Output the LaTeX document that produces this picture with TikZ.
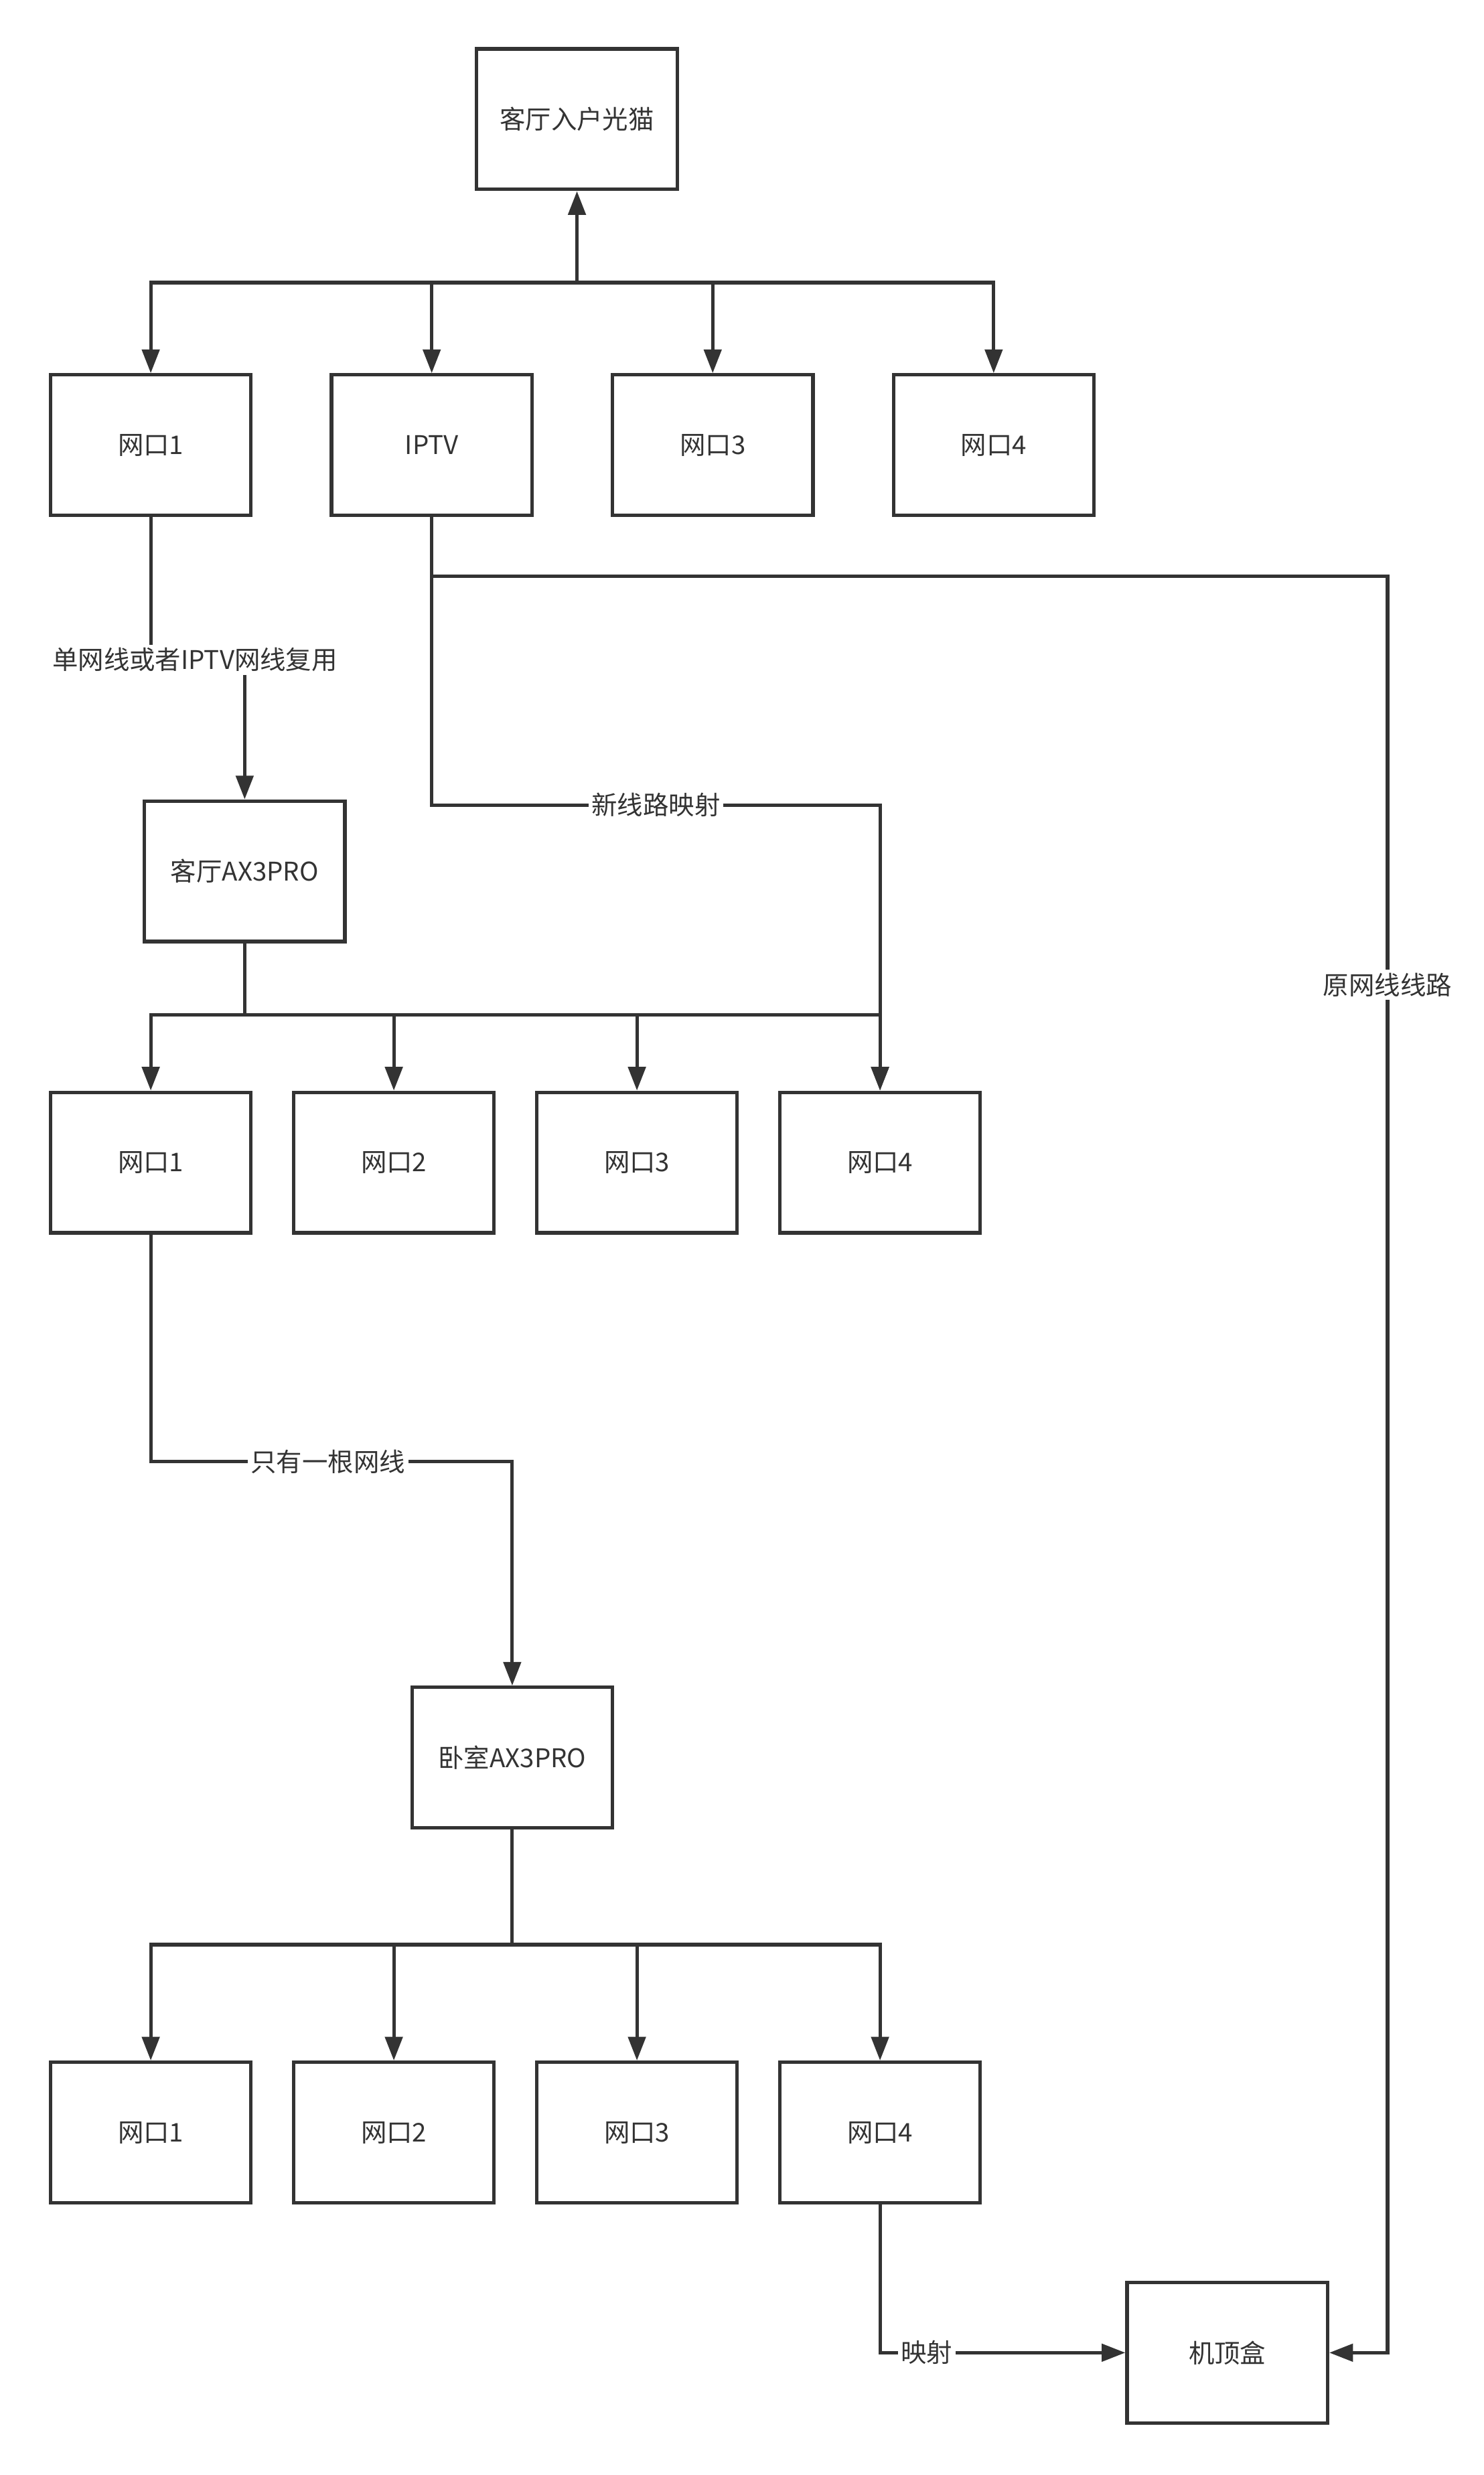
\documentclass[tikz,border=0pt]{standalone}
\usepackage{fontspec}
\setmainfont{Noto Sans CJK SC}
\usepackage{tikz}
\usetikzlibrary{arrows.meta,positioning}
\definecolor{ink}{HTML}{333333}
\tikzstyle{port}=[draw=ink,fill=white,rectangle,line width=2.2pt,minimum width=127pt,minimum height=89pt,inner sep=1pt,text=ink]
\tikzstyle{wire}=[draw=ink,line width=2.2pt]
\tikzstyle{lbl}=[fill=white,text=ink,inner sep=2pt]

\begin{document}
\begin{tikzpicture}[x=1pt,y=-1pt,
every node/.style={font=\fontsize{16.3pt}{19pt}\selectfont},
>={Triangle[length=15pt,width=11pt]}]
\path[use as bounding box,fill=white] (0,0) rectangle (940,1568);
\node[port] (modem) at (365.5,75.5) {客厅入户光猫};
\node[port] (a1) at (95.5,282) {网口1};
\node[port,right=48.8pt of a1] (iptv) {IPTV};
\node[port,right=48.8pt of iptv] (a3) {网口3};
\node[port,right=48.8pt of a3] (a4) {网口4};
\node[port] (hall) at (155,552) {客厅AX3PRO};
\node[port] (b1) at (95.5,736.5) {网口1};
\node[port,right=24.8pt of b1] (b2) {网口2};
\node[port,right=24.8pt of b2] (b3) {网口3};
\node[port,right=24.8pt of b3] (b4) {网口4};
\node[port] (room) at (324.5,1113.5) {卧室AX3PRO};
\node[port] (c1) at (95.5,1351) {网口1};
\node[port,right=24.8pt of c1] (c2) {网口2};
\node[port,right=24.8pt of c2] (c3) {网口3};
\node[port,right=24.8pt of c3] (c4) {网口4};
\node[port] (stb) at (777.5,1490.5) {机顶盒};

\coordinate (j0) at (modem |- 0,179);
\draw[wire,->] (j0) -- (modem);
\foreach \n in {a1,iptv,a3,a4}
    \draw[wire,->] (j0) -| (\n);
\draw[wire,->] (a1) -- (a1 |- 0,418) -- node[lbl,pos=0.47] {单网线或者IPTV网线复用} (hall |- 0,418) -- (hall);
\draw[wire,->] (iptv) -- (iptv |- 0,365) -- (879,365) -- node[lbl,pos=0.23] {原网线线路} (879,1490.5) -- (stb);
\draw[wire,->] (iptv |- 0,365) -- (iptv |- 0,510) -- node[lbl] {新线路映射} (b4 |- 0,510) -- (b4);

\coordinate (j1) at (hall |- 0,643);
\draw[wire] (hall) -- (j1);
\foreach \n in {b1,b2,b3,b4}
    \draw[wire,->] (j1) -| (\n);
\draw[wire,->] (b1) -- (b1 |- 0,926) -- node[lbl,pos=0.49] {只有一根网线} (room |- 0,926) -- (room);

\coordinate (j2) at (room |- 0,1232);
\draw[wire] (room) -- (j2);
\foreach \n in {c1,c2,c3,c4}
    \draw[wire,->] (j2) -| (\n);
\draw[wire,->] (c4) -- (c4 |- stb) -- node[lbl,pos=0.19] {映射} (stb);
\end{tikzpicture}
\end{document}
